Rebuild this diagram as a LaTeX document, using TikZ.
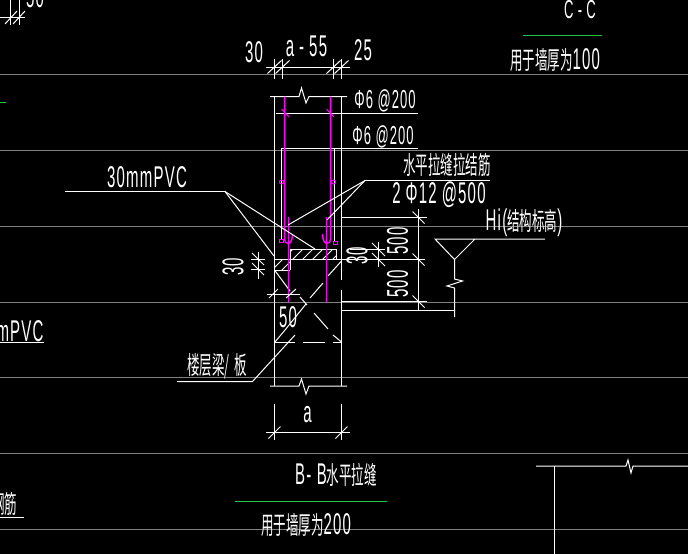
\documentclass[tikz,border=0pt]{standalone}
\usepackage{fontspec}
\newfontfamily\cadlat[FakeStretch=0.5,LetterSpace=4]{Liberation Sans}
\newfontfamily\cadcjk[FakeStretch=0.5]{Noto Sans CJK SC}
\newcommand{\cjk}[1]{{\cadcjk\fontsize{25}{25}\selectfont #1}}
\definecolor{gridgray}{RGB}{128,128,128}
\definecolor{rebar}{RGB}{255,0,255}
\definecolor{titlegreen}{RGB}{30,200,70}
\begin{document}
\begin{tikzpicture}
[x=1pt,y=-1pt,line width=1pt,white,
label/.style={inner sep=0pt,text=white,font=\cadlat\fontsize{30}{30}\selectfont},
small/.style={label,font=\cadlat\fontsize{26}{26}\selectfont},
cjktxt/.style={label,font=\cadcjk\fontsize{25}{25}\selectfont},
bar/.style={rebar,line width=1.5pt},
grid/.style={gridgray},
title/.style={titlegreen}]
\clip (0,0) rectangle (688,554);
\fill[black] (0,0) rectangle (688,554);

% grey lines
\foreach \gy in {74.5,150.5,226.5,302.5,377.5,453.5,529.5}
  \draw[grid] (0,\gy) -- (688,\gy);

% wall
\draw (270,96.5) -- (299,96.5) -- (301.5,88) -- (306,103) -- (309,96.5) -- (347,96.5);
\draw (270,386) -- (299,386) -- (301.5,379) -- (306,394) -- (309,386) -- (347,386);
\draw (274.5,96.5) -- (274.5,386);
\draw (341.5,96.5) -- (341.5,280);
\draw (341.5,290) -- (341.5,386);

% inner ties
\draw (276,113.5) -- (418,113.5);
\draw (281.5,239) -- (281.5,148.5) -- (418,148.5);
\draw (334,242) -- (334,148.5);

% slab and hatch
\draw (290,270) -- (290,249) -- (336,249) -- (336,259);
\draw (274.5,259.5) -- (425,259.5);
\draw (274.5,270) -- (290,270);
\begin{scope}
\clip (290,249) rectangle (336,259.5) (274.5,259.5) rectangle (290,270);
\foreach \hx in {270,280,...,350}
  \draw[line width=.8pt] (\hx,272) -- (\hx+23,249);
\end{scope}

% dashed beam diagonals
\draw (274.5,270) -- (290,291);
\draw (300,297) -- (307,305);
\draw (314,313) -- (328,329);
\draw (333,335) -- (341.5,342);
\draw (341.5,261) -- (328,276);
\draw (323,283) -- (310,298);
\draw (306,304) -- (285,330);
\draw (285,330) -- (275,342);
\draw (274.5,342.5) -- (295,342.5);
\draw (303,342.5) -- (325,342.5);
\draw (333,342.5) -- (341.5,342.5);

% rebar
\draw[bar] (284.5,96.5) -- (284.5,238) .. controls (284.5,246) and (292.5,246) .. (292.5,234);
\draw[bar] (330.5,96.5) -- (330.5,238) .. controls (330.5,246) and (322.5,246) .. (322.5,234);
\draw[bar] (288.5,217) -- (288.5,302);
\draw[bar] (326.5,217) -- (326.5,302);
\draw[rebar] (281.5,109) -- (289,117);
\draw[rebar] (326.5,109) -- (334,117);
\draw[rebar] (281.5,182) circle (2);
\draw[rebar] (333.5,182) circle (2);
\draw[rebar] (279,239) rectangle (283,242);
\draw[rebar] (333,241) rectangle (337,244);

% top dimension
\draw (266,67.5) -- (350,67.5);
\foreach \dx in {274.5,282.5,333.5,341.5} {
  \draw (\dx,59) -- (\dx,79);
  \draw (\dx-7,73.5) -- (\dx+7,60.5);
}

% bottom dimension
\draw (266,432.5) -- (350,432.5);
\foreach \dx in {274.5,341.5} {
  \draw (\dx,404) -- (\dx,440);
  \draw (\dx-6,438.5) -- (\dx+6,426.5);
}

% 50 dimension
\draw (266.5,294.5) -- (300,294.5);
\draw (278,289) -- (269,298);
\draw (296,289) -- (286,298);

% left 30 dimension
\draw (258,252) -- (258,279);
\draw (251,259.5) -- (265,259.5);
\draw (251,269.5) -- (265,269.5);
\draw (252,253) -- (264,265);
\draw (252,263) -- (264,275);

% right dimensions
\draw (341.5,217.5) -- (427,217.5);
\draw (341.5,301.5) -- (427,301.5);
\draw (341.5,310) -- (454.5,310);
\draw (350,249.5) -- (385,249.5);
\draw (378.5,242) -- (378.5,267);
\draw (372,243) -- (385,256);
\draw (372,253) -- (385,266);
\draw (418.5,209) -- (418.5,310);
\foreach \dy in {217.5,259.5,301.5}
  \draw (412.5,\dy-6) -- (424.5,\dy+6);

% level mark
\draw (545,239) -- (435,239) -- (454.5,259.5) -- (475,239);
\draw (454.5,259.5) -- (454.5,279) -- (462.5,281) -- (447,286) -- (454.5,288) -- (454.5,317);

% leaders
\draw (65,191.5) -- (225,191.5);
\draw (225,191.5) -- (274,256);
\draw (225,191.5) -- (315,249);
\draw (490,180.5) -- (365,180.5);
\draw (365,180.5) -- (288,225);
\draw (365,180.5) -- (327,220);
\draw (177,381.5) -- (252.5,381.5) -- (295,335);

% title lines
\draw[title] (235,501.5) -- (387,501.5);
\draw[title] (523,35) -- (602,35);

% far right detail
\draw (536,466) -- (626,466) -- (628,460) -- (631,473) -- (633,466) -- (688,466);
\draw (554.5,466) -- (554.5,554);

% far left detail
\draw (0,17.5) -- (25,17.5);
\draw (10.5,0) -- (10.5,25);
\draw (19.5,0) -- (19.5,25);
\draw (5,24) -- (17,11);
\draw (13,24) -- (25,11);
\draw[titlegreen] (0,102.5) -- (6,102.5);
\draw (0,342.5) -- (44,342.5);
\draw (0,517) -- (24,517);

% labels
\node[label] (dimA) at (254,52) {30};
\node[label] (dimB) at (306.5,46.5) {a\,-\,55};
\node[label] (dimC) at (363,50) {25};
\node[small] (tieA) at (385,101) {Φ6 @200};
\node[small] (tieB) at (383,137) {Φ6 @200};
\node[cjktxt] (barname) at (447,165) {水平拉缝拉结筋};
\node[label] (barsize) at (439,195) {2\,Φ12\,@500};
\node[label] (pvc) at (147,177) {30mmPVC};
\node[label] (level) at (524,223) {Hi(\cjk{结构标高})};
\node[label,rotate=90] (upper) at (397.5,241) {500};
\node[label,rotate=90] (lower) at (397.5,284) {500};
\node[label,rotate=90] (gapR) at (357,256) {30};
\node[label,rotate=90] (gapL) at (233,267) {30};
\node[label] (fifty) at (288,317.5) {50};
\node[label] (wid) at (307.5,415) {a};
\node[cjktxt] (beam) at (217,366) {楼层梁/\,板};
\node[label] (bb) at (336,475) {B- B\cjk{水平拉缝}};
\node[label] (bbuse) at (306,525) {\cjk{用于墙厚为}200};
\node[small] (cc) at (580,9.5) {C\,-\,C};
\node[label] (ccuse) at (555,60) {\cjk{用于墙厚为}100};
\node[label,anchor=east] (cutpvc) at (44,331) {mPVC};
\node[cjktxt,anchor=east] (cutbar) at (18,504) {钢筋};
\node[label] (cutdim) at (35,-3) {50};
\end{tikzpicture}
\end{document}
